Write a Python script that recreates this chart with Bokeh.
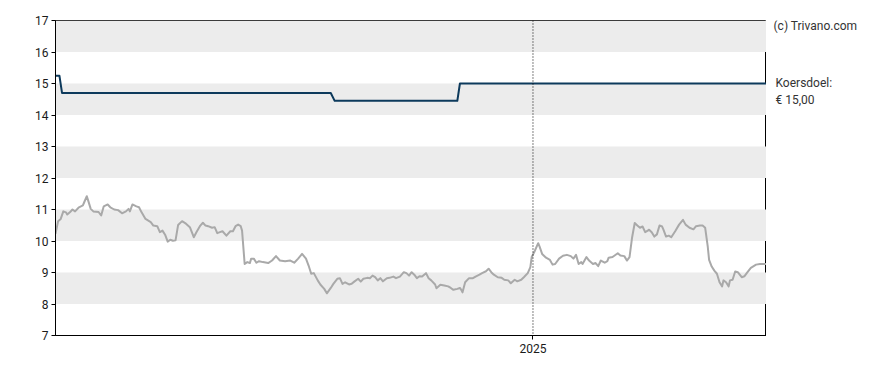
import pandas as pd
from bokeh.plotting import figure
from bokeh.layouts import row
from bokeh.core.properties import value
from bokeh.models import Range1d, FixedTicker, DatetimeTickFormatter, Span, ColumnDataSource
from bokeh.embed import file_html
from bokeh.resources import INLINE

# ---------------- data ----------------
start_date = "2024-01-01"
range_days = 545
x_tick_date = "2025-01-01"
y_ticks = [7, 8, 9, 10, 11, 12, 13, 14, 15, 16, 17]

price_days = [0, 2, 4, 6, 8, 9, 11, 13, 15, 18, 21, 22, 24, 25, 27, 29, 33, 35, 37, 40,
              42, 45, 48, 51, 54, 56, 57, 59, 62, 64, 66, 69, 73, 75, 78, 80, 82, 84, 86, 88,
              90, 92, 94, 97, 100, 103, 106, 108, 111, 113, 115, 117, 120, 122, 124, 126, 128, 131, 134, 136,
              138, 140, 142, 143, 145, 147, 149, 150, 152, 154, 156, 159, 163, 166, 169, 172, 176, 180, 183, 186,
              189, 192, 194, 196, 198, 201, 203, 206, 208, 211, 213, 216, 218, 220, 222, 225, 227, 229, 232, 234,
              236, 239, 241, 243, 245, 247, 249, 251, 254, 256, 259, 261, 264, 267, 269, 271, 273, 275, 277, 279,
              281, 284, 286, 288, 291, 292, 295, 298, 301, 303, 305, 308, 310, 311, 312, 314, 317, 320, 322, 325,
              327, 330, 332, 334, 336, 339, 342, 344, 347, 349, 352, 354, 357, 359, 362, 364, 365, 367, 370, 371,
              373, 376, 379, 381, 383, 386, 389, 392, 395, 397, 399, 401, 403, 404, 407, 409, 412, 414, 416, 418,
              421, 423, 424, 427, 431, 433, 436, 438, 440, 442, 444, 446, 448, 450, 452, 454, 455, 457, 459, 461,
              463, 465, 466, 468, 470, 472, 475, 478, 481, 483, 486, 489, 491, 494, 496, 498, 500, 501, 503, 505,
              507, 509, 511, 512, 514, 516, 517, 519, 521, 523, 526, 528, 530, 533, 537, 540, 545]

price_values = [10.23, 10.63, 10.70, 10.94, 10.91, 10.84, 10.91, 11.00, 10.94, 11.07, 11.13, 11.23, 11.42, 11.29, 11.02, 10.94, 10.92, 10.81, 11.10, 11.16,
                11.07, 11.00, 10.98, 10.88, 10.94, 11.02, 10.94, 11.16, 11.10, 11.07, 10.91, 10.70, 10.60, 10.49, 10.47, 10.28, 10.33, 10.20, 9.98, 10.04,
                10.01, 10.02, 10.51, 10.63, 10.55, 10.44, 10.12, 10.28, 10.49, 10.58, 10.49, 10.47, 10.42, 10.44, 10.25, 10.28, 10.31, 10.17, 10.31, 10.31,
                10.47, 10.52, 10.47, 10.33, 9.27, 9.33, 9.30, 9.44, 9.44, 9.31, 9.36, 9.33, 9.30, 9.38, 9.52, 9.38, 9.36, 9.38, 9.31, 9.44,
                9.59, 9.44, 9.22, 8.96, 8.98, 8.75, 8.62, 8.48, 8.34, 8.51, 8.64, 8.80, 8.82, 8.64, 8.69, 8.62, 8.64, 8.71, 8.80, 8.71,
                8.80, 8.83, 8.82, 8.90, 8.85, 8.75, 8.82, 8.72, 8.82, 8.83, 8.87, 8.82, 8.87, 9.01, 8.98, 8.90, 9.01, 8.93, 8.82, 8.88,
                8.87, 8.98, 8.82, 8.75, 8.62, 8.50, 8.61, 8.59, 8.56, 8.51, 8.45, 8.48, 8.51, 8.45, 8.37, 8.69, 8.82, 8.82, 8.87, 8.93,
                8.98, 9.04, 9.12, 9.01, 8.93, 8.85, 8.83, 8.77, 8.75, 8.66, 8.77, 8.72, 8.77, 8.85, 8.98, 9.17, 9.49, 9.65, 9.93, 9.83,
                9.59, 9.47, 9.40, 9.25, 9.27, 9.44, 9.53, 9.56, 9.52, 9.44, 9.56, 9.27, 9.33, 9.27, 9.49, 9.38, 9.27, 9.30, 9.20, 9.38,
                9.31, 9.36, 9.47, 9.49, 9.61, 9.54, 9.52, 9.38, 9.49, 10.12, 10.57, 10.49, 10.42, 10.46, 10.28, 10.33, 10.36, 10.28, 10.14, 10.21,
                10.49, 10.46, 10.36, 10.14, 10.17, 10.12, 10.31, 10.52, 10.67, 10.52, 10.42, 10.37, 10.47, 10.49, 10.49, 10.42, 9.81, 9.40, 9.19, 9.06,
                8.96, 8.69, 8.56, 8.75, 8.69, 8.56, 8.75, 8.77, 9.03, 9.01, 8.85, 8.88, 8.99, 9.15, 9.25, 9.27, 9.27]

target_days = [0, 3, 5, 211, 214, 308, 310, 545]
target_values = [15.25, 15.25, 14.70, 14.70, 14.45, 14.45, 15.00, 15.00]

target_caption = "Koersdoel:"
target_value_text = "€ 15,00"
copyright_text = "(c) Trivano.com"

# ---------------- layout constants ----------------
W_MAIN, W_SIDE, H = 766, 122, 370
B_LEFT, B_TOP, B_BOTTOM = 55, 20, 35

# ---------------- build ----------------
start = pd.Timestamp(start_date)
price_src = ColumnDataSource(dict(
    x=[start + pd.Timedelta(days=d) for d in price_days], y=price_values))
target_src = ColumnDataSource(dict(
    x=[start + pd.Timedelta(days=d) for d in target_days], y=target_values))

def ms(ts):
    return ts.value / 1e6

x_start = ms(start)
x_end = ms(start + pd.Timedelta(days=range_days))
tick_ms = ms(pd.Timestamp(x_tick_date))
y_lo, y_hi = min(y_ticks), max(y_ticks)

p = figure(width=W_MAIN, height=H, x_axis_type="datetime",
           x_range=Range1d(x_start, x_end), y_range=Range1d(y_lo, y_hi),
           output_backend="svg", toolbar_location=None,
           min_border_left=B_LEFT, min_border_right=0, min_border_top=B_TOP, min_border_bottom=B_BOTTOM)

p.background_fill_color = "white"
p.border_fill_color = "white"
p.outline_line_color = "black"
p.outline_line_width = 1

p.xgrid.grid_line_color = None
p.ygrid.grid_line_color = None
p.ygrid.band_fill_color = "#ececec"
p.ygrid.band_fill_alpha = 1.0

p.yaxis.ticker = FixedTicker(ticks=y_ticks)
p.xaxis.ticker = FixedTicker(ticks=[tick_ms])
p.xaxis.formatter = DatetimeTickFormatter(
    microseconds="%Y", milliseconds="%Y", seconds="%Y", minsec="%Y", minutes="%Y",
    hourmin="%Y", hours="%Y", days="%Y", months="%Y", years="%Y")

for ax in (p.xaxis[0], p.yaxis[0]):
    ax.axis_line_color = "black"
    ax.axis_line_width = 1
    ax.major_tick_line_color = "black"
    ax.major_tick_out = 4
    ax.major_tick_in = 0
    ax.minor_tick_line_color = None
    ax.major_label_text_font = "Roboto"
    ax.major_label_text_font_size = "12px"
    ax.major_label_text_color = "#1a1a1a"
p.yaxis.major_label_standoff = 3
p.xaxis.major_label_standoff = 4

p.add_layout(Span(location=tick_ms, dimension="height", line_color="black",
                  line_width=1, line_dash="1 2"))

p.line("x", "y", source=price_src, line_color="#a9a9a9", line_width=2, line_join="round")
p.line("x", "y", source=target_src, line_color="#0d3a5c", line_width=2, line_join="round")

# side panel for the texts right of the plot, sharing the same vertical scale
frame_h = H - B_TOP - B_BOTTOM
px_per_unit = frame_h / (y_hi - y_lo)
side = figure(width=W_SIDE, height=H,
              x_range=Range1d(0, W_SIDE),
              y_range=Range1d(y_lo - B_BOTTOM / px_per_unit, y_hi + B_TOP / px_per_unit),
              output_backend="svg", toolbar_location=None,
              x_axis_location=None, y_axis_location=None,
              min_border_left=0, min_border_right=0, min_border_top=0, min_border_bottom=0)
side.outline_line_color = None
side.xgrid.grid_line_color = None
side.ygrid.grid_line_color = None
side.background_fill_color = "white"
side.border_fill_color = "white"

text_style = dict(text_font=value("Roboto"), text_font_size="12px",
                  text_color="#333333", text_baseline="middle", text_align="left")
side.text(x=[9], y=[target_values[-1]], text=[target_caption], y_offset=-8, **text_style)
side.text(x=[9], y=[target_values[-1]], text=[target_value_text], y_offset=9, **text_style)
side.text(x=[7], y=[y_hi], text=[copyright_text], y_offset=-12, **text_style)

layout = row(p, side, spacing=0)
open("out.html", "w").write(file_html(layout, INLINE))
